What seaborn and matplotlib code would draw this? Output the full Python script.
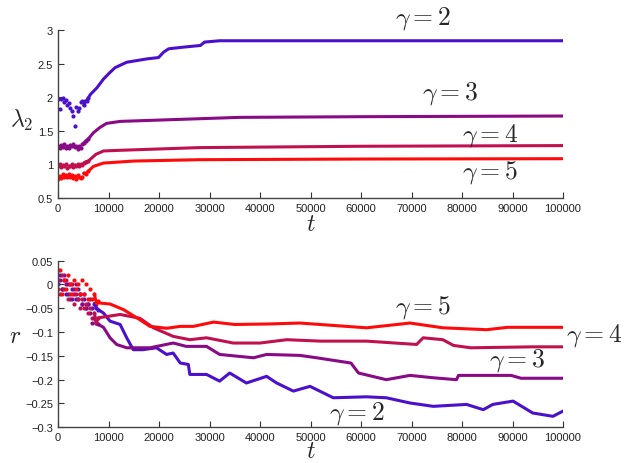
import numpy as np
import pandas as pd
import seaborn as sns
import matplotlib
matplotlib.use("Agg")
import matplotlib.pyplot as plt
from matplotlib.ticker import FuncFormatter

# ---- top panel: lambda_2 vs t ----
t_l2_g2 = [0, 300, 600, 900, 1200, 1500, 1800, 2100, 2400, 2700, 3000, 3300, 3600, 3900,
           4200, 4500, 4800, 5100, 5400, 5700, 6000, 6400, 7700, 9000, 10300, 11300,
           13600, 17600, 19900, 20900, 21900, 24200, 28200, 29000, 32000, 40000, 60000,
           80000, 100000]
l2_g2 = [1.98, 1.83, 1.97, 1.99, 1.93, 1.96, 1.88, 1.92, 1.84, 1.80, 1.72, 1.57, 1.85, 1.80,
         1.84, 1.93, 1.95, 1.88, 1.94, 1.95, 1.99, 2.04, 2.14, 2.27, 2.37, 2.44,
         2.52, 2.57, 2.59, 2.67, 2.72, 2.74, 2.77, 2.82, 2.84, 2.84, 2.84,
         2.84, 2.84]

t_l2_g3 = [0, 300, 600, 900, 1200, 1500, 1800, 2100, 2400, 2700, 3000, 3300, 3600, 3900,
           4200, 4500, 4800, 5100, 5500, 6000, 7000, 8300, 9600, 12300, 20200, 36000,
           60000, 100000]
l2_g3 = [1.27, 1.24, 1.29, 1.26, 1.30, 1.25, 1.28, 1.24, 1.29, 1.27, 1.30, 1.26, 1.28, 1.23,
         1.27, 1.25, 1.30, 1.32, 1.35, 1.38, 1.47, 1.55, 1.61, 1.64, 1.66, 1.70,
         1.71, 1.72]

t_l2_g4 = [0, 300, 600, 900, 1200, 1500, 1800, 2100, 2400, 2700, 3000, 3300, 3600, 3900,
           4200, 4500, 4800, 5100, 5500, 6000, 7500, 9000, 12300, 28000, 60000, 100000]
l2_g4 = [0.97, 1.00, 0.96, 0.99, 0.97, 1.00, 0.95, 0.98, 0.97, 1.00, 0.96, 0.99, 0.97, 1.00,
         0.98, 1.01, 0.99, 1.02, 1.04, 1.05, 1.15, 1.20, 1.21, 1.25, 1.27, 1.28]

t_l2_g5 = [0, 300, 600, 900, 1200, 1500, 1800, 2100, 2400, 2700, 3000, 3300, 3600, 3900,
           4200, 4500, 4800, 5100, 5500, 6000, 7000, 9000, 15000, 28000, 60000, 100000]
l2_g5 = [0.78, 0.83, 0.80, 0.85, 0.82, 0.84, 0.81, 0.85, 0.82, 0.84, 0.80, 0.83, 0.79, 0.84,
         0.81, 0.80, 0.82, 0.87, 0.86, 0.90, 0.97, 1.02, 1.05, 1.07, 1.08, 1.085]

# ---- bottom panel: r vs t ----
t_r_g2 = [0, 400, 800, 1200, 1600, 2000, 2400, 2800, 3200, 3600, 4000, 4400, 4800, 5200,
          5600, 6000, 6400, 6800, 7200, 7600, 8000, 9000, 10300, 12300, 13600, 14900,
          16800, 19500, 21500, 22800, 24200, 25800, 26100, 29400, 32000, 34000, 37300,
          41300, 43300, 46600, 49900, 54500, 61100, 65000, 69700, 74300, 80900, 84200,
          86100, 90100, 94000, 98000, 100000]
r_g2 = [0.00, 0.02, -0.01, 0.01, -0.02, 0.00, -0.03, -0.01, -0.02, -0.03, -0.01, -0.02,
        -0.04, -0.03, -0.05, -0.04, -0.03, -0.05, -0.04, -0.05, -0.053, -0.06, -0.077,
        -0.084, -0.112, -0.137, -0.137, -0.133, -0.147, -0.144, -0.165, -0.168, -0.189,
        -0.189, -0.203, -0.186, -0.207, -0.193, -0.207, -0.224, -0.214, -0.238, -0.236,
        -0.238, -0.249, -0.256, -0.252, -0.263, -0.252, -0.245, -0.270, -0.277, -0.266]

t_r_g3 = [0, 400, 800, 1200, 1600, 2000, 2400, 2800, 3200, 3600, 4000, 4400, 4800, 5200,
          5600, 6000, 6400, 6800, 7200, 7600, 8000, 9000, 10300, 11600, 13600, 18200,
          22800, 25400, 29400, 32000, 38700, 41300, 47900, 51200, 58000, 59500, 65000,
          69700, 74300, 78900, 79300, 89700, 91700, 100000]
r_g3 = [0.03, 0.01, -0.01, 0.02, 0.00, -0.02, 0.00, -0.03, -0.01, 0.00, -0.03, -0.02,
        -0.04, -0.02, -0.05, -0.04, -0.06, -0.08, -0.07, -0.08, -0.084, -0.09, -0.112,
        -0.126, -0.133, -0.133, -0.123, -0.130, -0.130, -0.147, -0.154, -0.147, -0.149,
        -0.154, -0.165, -0.186, -0.200, -0.191, -0.196, -0.200, -0.191, -0.191, -0.197,
        -0.197]

t_r_g4 = [0, 400, 800, 1200, 1600, 2000, 2400, 2800, 3200, 3600, 4000, 4400, 4800, 5200,
          5600, 6000, 6400, 6800, 7200, 7600, 8000, 12300, 16200, 18900, 22800, 26100,
          29400, 34700, 40000, 45300, 52000, 61100, 71000, 72300, 76200, 78300, 81700,
          94000, 100000]
r_g4 = [0.01, -0.02, 0.02, -0.01, 0.01, -0.03, -0.02, 0.00, -0.04, -0.02, -0.03, -0.05,
        -0.03, -0.05, -0.04, -0.06, -0.05, -0.07, -0.06, -0.08, -0.07, -0.063, -0.071,
        -0.091, -0.109, -0.116, -0.112, -0.123, -0.123, -0.116, -0.119, -0.119, -0.126,
        -0.112, -0.116, -0.128, -0.133, -0.131, -0.131]

t_r_g5 = [0, 400, 800, 1200, 1600, 2000, 2400, 2800, 3200, 3600, 4000, 4400, 4800, 5200,
          5600, 6000, 6400, 6800, 7200, 7600, 8000, 8300, 10300, 13000, 16200, 18200,
          21500, 24200, 26800, 30800, 35000, 41500, 47900, 54500, 61100, 69700, 76200,
          84900, 89000, 100000]
r_g5 = [-0.01, 0.03, -0.02, 0.01, -0.01, 0.02, 0.00, -0.02, 0.01, -0.01, 0.00, -0.02,
        0.01, -0.02, 0.00, -0.03, -0.01, -0.03, -0.02, -0.04, -0.035, -0.039, -0.041,
        -0.053, -0.074, -0.088, -0.092, -0.088, -0.088, -0.079, -0.084, -0.083, -0.081,
        -0.086, -0.091, -0.081, -0.091, -0.095, -0.090, -0.090]

gammas = ["2", "3", "4", "5"]
colors = ["#4b10cc", "#880a86", "#c0104e", "#ff0a0a"]

sns.set_style("ticks")
plt.rcParams["font.family"] = ["Liberation Sans", "DejaVu Sans"]
plt.rcParams["mathtext.fontset"] = "cm"

fig = plt.figure(figsize=(6.26, 4.64), dpi=100)
ax1 = fig.add_axes([0.0927, 0.5711, 0.8067, 0.3621])
ax2 = fig.add_axes([0.0927, 0.0770, 0.8067, 0.3590])


def draw(ax, t, v, color, cut):
    # noisy start as dots, settled part as a thick line
    df = pd.DataFrame({"t": t, "v": v})
    early = df[df["t"] <= cut]
    late = df[df["t"] >= cut - 1000]
    sns.scatterplot(data=early, x="t", y="v", ax=ax, color=color, s=9,
                    linewidth=0, legend=False)
    sns.lineplot(data=late, x="t", y="v", ax=ax, color=color, lw=2.2,
                 estimator=None, sort=False, legend=False)


top_series = [(t_l2_g2, l2_g2), (t_l2_g3, l2_g3), (t_l2_g4, l2_g4), (t_l2_g5, l2_g5)]
bot_series = [(t_r_g2, r_g2), (t_r_g3, r_g3), (t_r_g4, r_g4), (t_r_g5, r_g5)]
for (t, v), c in zip(top_series, colors):
    draw(ax1, t, v, c, 6000)
for (t, v), c in zip(bot_series, colors):
    draw(ax2, t, v, c, 8000)

fmt = FuncFormatter(lambda x, p: f"{x:g}".replace("-", "\u2212"))
for ax in (ax1, ax2):
    ax.set_xlim(0, 100000)
    ax.set_xticks(np.arange(0, 100001, 10000))
    ax.xaxis.set_major_formatter(FuncFormatter(lambda x, p: f"{int(x)}"))
    ax.yaxis.set_major_formatter(fmt)
    ax.tick_params(direction="in", length=4, width=0.8, labelsize=8,
                   colors="#333333", labelcolor="#222222")
    for s in ("left", "bottom"):
        ax.spines[s].set_color("#444444")
        ax.spines[s].set_linewidth(1.0)
    sns.despine(ax=ax)
    ax.set_xlabel("")
    ax.set_ylabel("")

ax1.set_ylim(0.5, 3)
ax1.set_yticks([0.5, 1, 1.5, 2, 2.5, 3])
ax2.set_ylim(-0.3, 0.05)
ax2.set_yticks([0.05, 0, -0.05, -0.1, -0.15, -0.2, -0.25, -0.3])

lab = dict(fontsize=17, ha="center", va="center")
ax1.text(-0.073, 0.47, r"$\lambda_2$", transform=ax1.transAxes, **lab)
ax1.text(0.5, -0.155, r"$t$", transform=ax1.transAxes, **lab)
ax2.text(-0.085, 0.55, r"$r$", transform=ax2.transAxes, **lab)
ax2.text(0.5, -0.145, r"$t$", transform=ax2.transAxes, **lab)

g = dict(fontsize=18.5, ha="center", va="center", clip_on=False)
top_lab = [(72300, 3.19), (77600, 2.07), (85500, 1.44), (85500, 0.89)]
for gm, (x, y) in zip(gammas, top_lab):
    ax1.text(x, y, rf"$\gamma = {gm}$", **g)
bot_lab = [(59200, -0.27), (90900, -0.157), (106200, -0.105), (72300, -0.046)]
for gm, (x, y) in zip(gammas, bot_lab):
    ax2.text(x, y, rf"$\gamma = {gm}$", **g)

fig.savefig("out.png", dpi=100)
